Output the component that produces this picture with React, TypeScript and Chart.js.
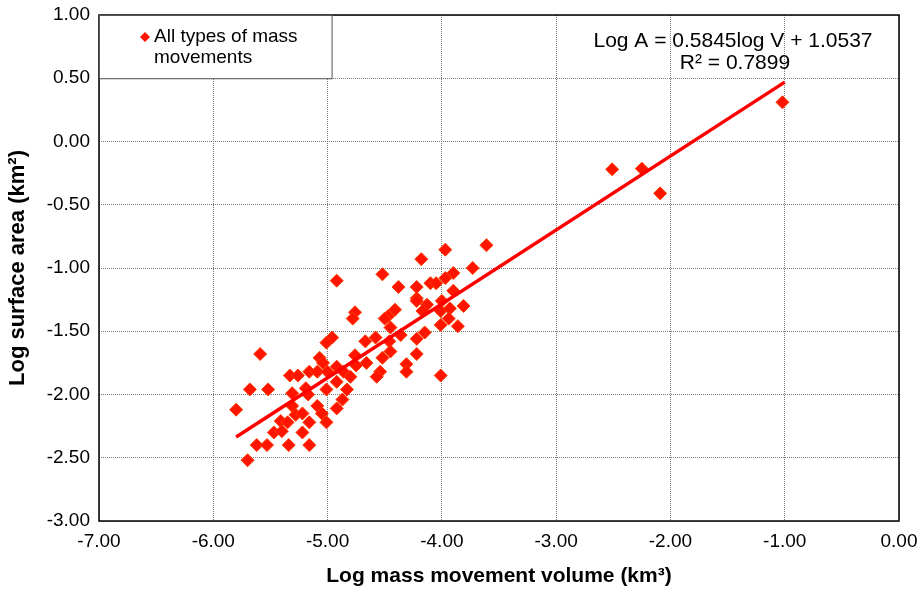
import React, { useEffect, useRef } from "react";
import { Chart, registerables } from "chart.js";

Chart.register(...registerables);

// Log mass movement volume (km³) values of observed mass movements
const logVolume: number[] = [
  -2.51, -2.25, -2.09, -1.02,
  -4.92, -4.76, -4.78, -5.59, -4.96, -5.01, -5.07, -5.04, -5.16, -5.09,
  -5.33, -5.26, -4.92, -5.0, -4.86, -4.92, -5.01, -5.19, -5.17, -5.31,
  -4.83, -4.76, -4.75, -4.8, -5.68, -5.52, -5.8, -5.09, -5.05, -4.92,
  -4.87, -5.31, -5.28, -5.22, -5.16, -5.01, -5.41, -5.35, -5.47, -5.4,
  -5.22, -5.62, -5.53, -5.34, -5.16, -5.7,
  -3.97, -3.61, -4.18, -3.73, -4.52, -3.97, -3.9, -4.1, -4.05, -4.38,
  -4.22, -4.22, -4.22, -4.13, -3.9, -4.0, -4.01, -3.93, -3.81, -3.94,
  -4.01, -3.86, -4.41, -4.47, -4.5, -4.17, -4.45, -4.15, -4.36, -4.22,
  -4.58, -4.67, -4.46, -4.45, -4.22, -4.52, -4.66, -4.31, -4.31, -4.54,
  -4.57, -4.01,
];

// Log surface area (km²) values, same order as logVolume
const logArea: number[] = [
  -0.22, -0.215, -0.41, 0.31,
  -1.1, -1.35, -1.4, -1.68, -1.55, -1.59, -1.71, -1.75, -1.82, -1.82,
  -1.85, -1.85, -1.78, -1.82, -1.82, -1.9, -1.96, -1.95, -2.0, -1.99,
  -1.96, -1.69, -1.77, -1.86, -1.96, -1.96, -2.12, -2.09, -2.15, -2.11,
  -2.04, -2.09, -2.16, -2.15, -2.22, -2.22, -2.21, -2.22, -2.3, -2.29,
  -2.3, -2.4, -2.4, -2.4, -2.4, -2.52,
  -0.855, -0.82, -0.93, -1.0, -1.05, -1.08, -1.04, -1.12, -1.12, -1.15,
  -1.15, -1.24, -1.26, -1.29, -1.18, -1.26, -1.34, -1.32, -1.3, -1.4,
  -1.45, -1.46, -1.33, -1.38, -1.4, -1.34, -1.47, -1.51, -1.53, -1.56,
  -1.55, -1.58, -1.58, -1.66, -1.68, -1.71, -1.75, -1.76, -1.82, -1.82,
  -1.86, -1.85,
];

// Regression: Log A = 0.5845 log V + 1.0537
const trendSlope = 0.5845;
const trendIntercept = 1.0537;
const trendRange: number[] = [-5.8, -1.0];

const xTicks: number[] = [-7, -6, -5, -4, -3, -2, -1, 0];
const yTicks: number[] = [-3, -2.5, -2, -1.5, -1, -0.5, 0, 0.5, 1];

const seriesLabel: string[] = ["All types of mass", "movements"];
const equationText: string[] = ["Log A = 0.5845log V + 1.0537", "R² = 0.7899"];

const FONT = "'Liberation Sans', Arial, sans-serif";

export default function App() {
  const ref = useRef<HTMLCanvasElement | null>(null);

  useEffect(() => {
    if (!ref.current) return;
    const points = logVolume.map((x, i) => ({ x, y: logArea[i] }));
    const trend = trendRange.map((x) => ({ x, y: trendSlope * x + trendIntercept }));

    const overlay = {
      id: "overlay",
      beforeDatasetsDraw(chart: any) {
        const { ctx, chartArea: a } = chart;
        ctx.save();
        ctx.strokeStyle = "#000";
        ctx.lineWidth = 1.5;
        ctx.strokeRect(a.left, a.top, a.right - a.left, a.bottom - a.top);
        // legend box
        const yS = chart.scales.y;
        const xS = chart.scales.x;
        const boxRight = xS.getPixelForValue(-4.965);
        const boxBottom = yS.getPixelForValue(0.5);
        ctx.fillStyle = "#fff";
        ctx.fillRect(a.left + 1, a.top + 1, boxRight - a.left - 1, boxBottom - a.top - 1);
        ctx.lineWidth = 1;
        ctx.strokeStyle = "#555";
        ctx.strokeRect(a.left + 0.5, a.top + 0.5, boxRight - a.left, boxBottom - a.top);
        // legend marker
        const mx = a.left + 46;
        const my = a.top + 22;
        ctx.fillStyle = "#ff1400";
        ctx.beginPath();
        ctx.moveTo(mx, my - 5);
        ctx.lineTo(mx + 5, my);
        ctx.lineTo(mx, my + 5);
        ctx.lineTo(mx - 5, my);
        ctx.closePath();
        ctx.fill();
        ctx.fillStyle = "#000";
        ctx.font = `19px ${FONT}`;
        ctx.textAlign = "left";
        ctx.textBaseline = "middle";
        ctx.fillText(seriesLabel[0], a.left + 55, a.top + 22);
        ctx.fillText(seriesLabel[1], a.left + 55, a.top + 43);
        // equation
        ctx.font = `21px ${FONT}`;
        ctx.textAlign = "center";
        ctx.fillText(equationText[0], 733, 41);
        ctx.fillText(equationText[1], 735, 63);
        ctx.restore();
      },
    };

    const zeroPad = (s: any) => {
      s.paddingTop = 0;
      s.paddingBottom = 0;
      s.paddingLeft = 0;
      s.paddingRight = 0;
    };

    const chart = new Chart(ref.current, {
      type: "scatter",
      data: {
        datasets: [
          {
            type: "line",
            label: "trend",
            data: trend,
            borderColor: "#ff0000",
            borderWidth: 3.5,
            pointRadius: 0,
            fill: false,
            order: 0,
          } as any,
          {
            label: seriesLabel.join(" "),
            data: points,
            pointStyle: "rectRot",
            pointRadius: 6.5,
            backgroundColor: "#ff1400",
            borderColor: "#ff3a00",
            borderWidth: 1,
            order: 1,
          },
        ],
      },
      options: {
        responsive: false,
        animation: false,
        events: [],
        layout: { padding: { top: 15, right: 21, left: 0, bottom: 0 } },
        plugins: {
          legend: { display: false },
          tooltip: { enabled: false },
        },
        scales: {
          x: {
            type: "linear",
            min: xTicks[0],
            max: xTicks[xTicks.length - 1],
            afterBuildTicks: (s: any) => {
              s.ticks = xTicks.map((v) => ({ value: v }));
            },
            afterFit: (s: any) => {
              s.height = 72;
              zeroPad(s);
            },
            ticks: {
              callback: (v: any) => Number(v).toFixed(2),
              font: { size: 19, family: FONT },
              color: "#000",
              padding: 9,
              maxRotation: 0,
            },
            grid: {
              color: "#7a7a7a",
              lineWidth: 1,
              drawTicks: false,
            },
            border: { display: false, dash: [1, 1] },
            title: {
              display: true,
              text: "Log mass movement volume (km³)",
              font: { size: 21, weight: "bold", family: FONT },
              color: "#000",
              padding: { top: 0, bottom: 4 },
            },
          },
          y: {
            type: "linear",
            min: yTicks[0],
            max: yTicks[yTicks.length - 1],
            afterBuildTicks: (s: any) => {
              s.ticks = yTicks.map((v) => ({ value: v }));
            },
            afterFit: (s: any) => {
              s.width = 99;
              zeroPad(s);
            },
            ticks: {
              callback: (v: any) => Number(v).toFixed(2),
              font: { size: 19, family: FONT },
              color: "#000",
              padding: 9,
            },
            grid: {
              color: "#7a7a7a",
              lineWidth: 1,
              drawTicks: false,
            },
            border: { display: false, dash: [1, 1] },
            title: {
              display: true,
              text: "Log surface area (km²)",
              font: { size: 22, weight: "bold", family: FONT },
              color: "#000",
              padding: { top: 5, bottom: 0 },
            },
          },
        },
      },
      plugins: [overlay],
    } as any);

    return () => chart.destroy();
  }, []);

  return (
    <div style={{ position: "absolute", left: 0, top: 0, width: 920, height: 593, background: "#fff" }}>
      <canvas ref={ref} width={920} height={593} />
    </div>
  );
}
